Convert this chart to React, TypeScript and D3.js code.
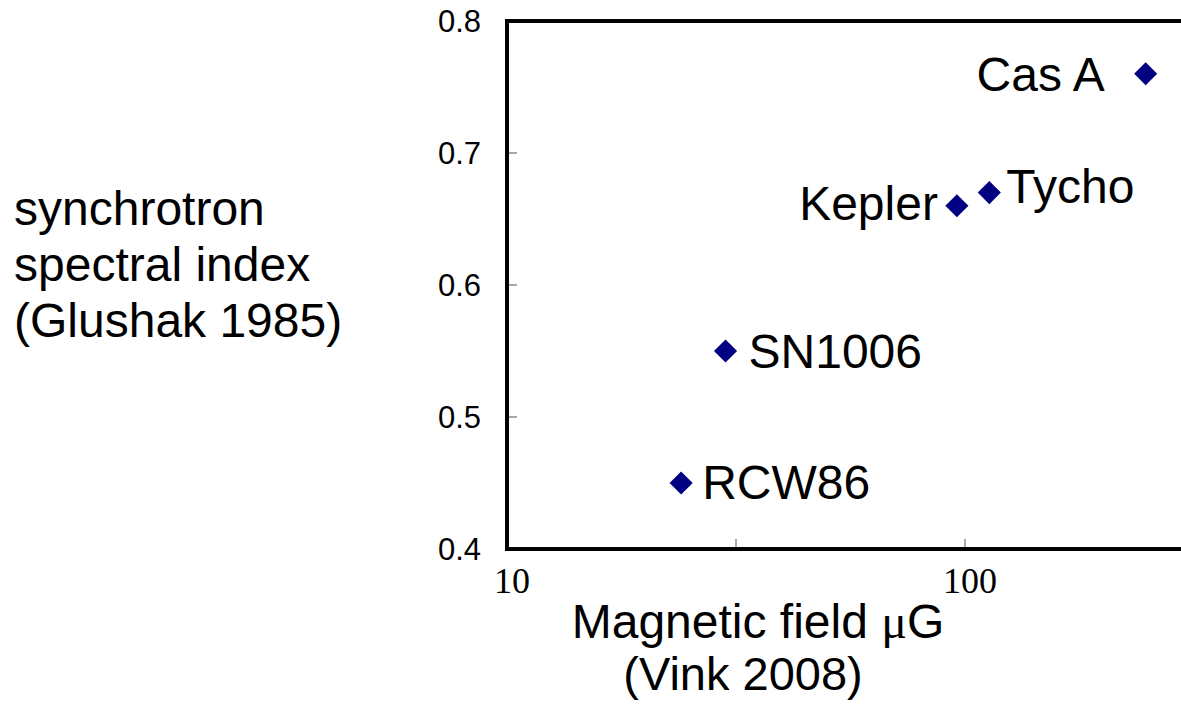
import React, { useEffect, useRef } from "react";
import * as d3 from "d3";

// supernova remnants: magnetic field (uG) vs synchrotron spectral index
const names = ["Cas A", "Tycho", "Kepler", "SN1006", "RCW86"];
const fieldValues = [248, 113, 96, 30, 24];
const indexValues = [0.76, 0.67, 0.66, 0.55, 0.45];
const yTicks = [0.4, 0.5, 0.6, 0.7, 0.8];
const xTickLabels = ["10", "100"];

// label placement relative to the marker: [dx, dy, anchor]
const labelPos: [number, number, string][] = [
  [-41, 17, "end"],
  [17, 10, "start"],
  [-19, 14, "end"],
  [23, 17, "start"],
  [21, 16, "start"],
];

export default function App() {
  const ref = useRef<SVGSVGElement>(null);

  useEffect(() => {
    const svg = d3.select(ref.current);
    svg.selectAll("*").remove();

    const left = 507,
      top = 21,
      bottom = 549,
      right = 1194;

    const x = d3.scaleLog().domain([10, Math.pow(10, 2.5)]).range([left, right]);
    const y = d3.scaleLinear().domain([0.4, 0.8]).range([bottom, top]);

    const g = svg.append("g");

    // y axis ticks (inside) and labels
    g.selectAll(".ytick")
      .data(yTicks.filter((d) => d > 0.4 && d < 0.8))
      .join("line")
      .attr("x1", left)
      .attr("x2", left + 10)
      .attr("y1", (d) => y(d))
      .attr("y2", (d) => y(d))
      .attr("stroke", "#555")
      .attr("stroke-width", 1);

    g.selectAll(".ylab")
      .data(yTicks)
      .join("text")
      .attr("x", 481)
      .attr("y", (d) => y(d) + 11)
      .attr("text-anchor", "end")
      .style("font-family", "Liberation Sans, Arial, sans-serif")
      .style("font-size", "31px")
      .text((d) => d.toFixed(1));

    // x axis ticks at half decades
    const xt = [Math.pow(10, 1.5), 100];
    g.selectAll(".xtick")
      .data(xt)
      .join("line")
      .attr("x1", (d) => x(d))
      .attr("x2", (d) => x(d))
      .attr("y1", bottom)
      .attr("y2", bottom - 10)
      .attr("stroke", "#555")
      .attr("stroke-width", 1);

    g.selectAll(".xlab")
      .data(xTickLabels)
      .join("text")
      .attr("x", (d) => x(+d) + 5)
      .attr("y", 593)
      .attr("text-anchor", "middle")
      .style("font-family", "Liberation Serif, Times New Roman, serif")
      .style("font-size", "36px")
      .text((d) => d);

    // plot frame
    g.append("rect")
      .attr("x", left)
      .attr("y", top)
      .attr("width", right - left)
      .attr("height", bottom - top)
      .attr("fill", "none")
      .attr("stroke", "#000")
      .attr("stroke-width", 4);

    const data = names.map((n, i) => ({ name: n, b: fieldValues[i], a: indexValues[i], pos: labelPos[i] }));

    const diamond = d3.symbol().type(d3.symbolDiamond2).size(340);
    g.selectAll(".pt")
      .data(data)
      .join("path")
      .attr("d", diamond)
      .attr("transform", (d) => `translate(${x(d.b)},${y(d.a)})`)
      .attr("fill", "#000080");

    g.selectAll(".lbl")
      .data(data)
      .join("text")
      .attr("x", (d) => x(d.b) + d.pos[0])
      .attr("y", (d) => y(d.a) + d.pos[1])
      .attr("text-anchor", (d) => d.pos[2])
      .style("font-family", "Liberation Sans, Arial, sans-serif")
      .style("font-size", "48px")
      .text((d) => d.name);

    // y title
    const yTitle = ["synchrotron", "spectral index", "(Glushak 1985)"];
    svg
      .append("g")
      .selectAll("text")
      .data(yTitle)
      .join("text")
      .attr("x", 14)
      .attr("y", (d, i) => 225 + i * 56)
      .style("font-family", "Liberation Sans, Arial, sans-serif")
      .style("font-size", "48px")
      .text((d) => d);

    // x title
    const t1 = svg
      .append("text")
      .attr("x", 758)
      .attr("y", 638)
      .attr("text-anchor", "middle")
      .style("font-family", "Liberation Sans, Arial, sans-serif")
      .style("font-size", "48px");
    t1.append("tspan").text("Magnetic field ");
    t1.append("tspan").style("font-family", "Liberation Serif, Times New Roman, serif").text("\u03bc");
    t1.append("tspan").text("G");

    svg
      .append("text")
      .attr("x", 743)
      .attr("y", 690)
      .attr("text-anchor", "middle")
      .style("font-family", "Liberation Sans, Arial, sans-serif")
      .style("font-size", "47px")
      .text("(Vink 2008)");
  }, []);

  return (
    <svg
      ref={ref}
      width={1181}
      height={704}
      style={{ position: "absolute", left: 0, top: 0, background: "#fff" }}
    />
  );
}
